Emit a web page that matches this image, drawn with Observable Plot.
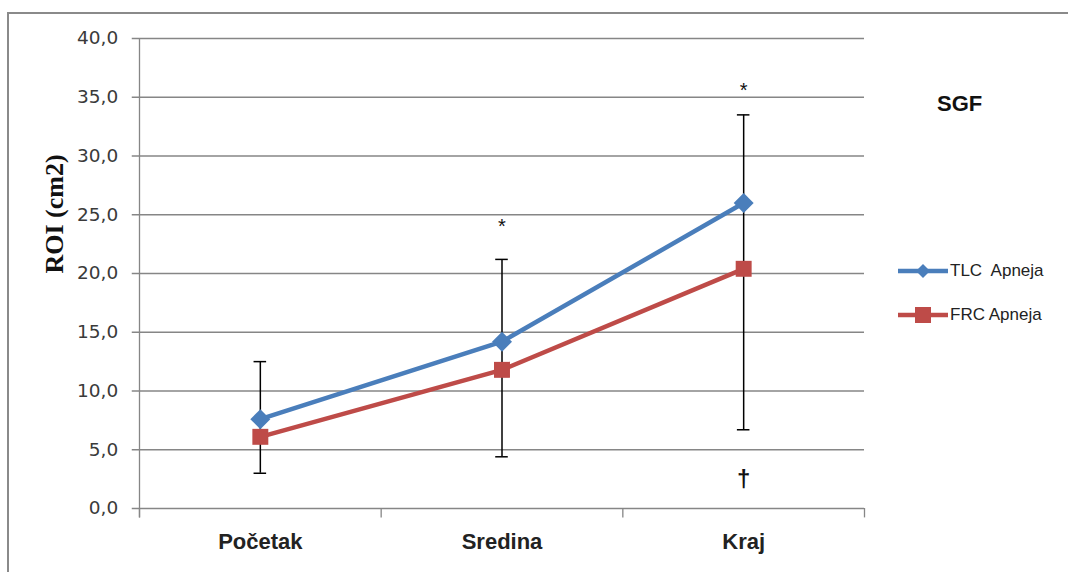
<!DOCTYPE html>
<html>
<head>
<meta charset="utf-8">
<script src="https://cdn.jsdelivr.net/npm/d3@7"></script>
<script src="https://cdn.jsdelivr.net/npm/@observablehq/plot@0.6"></script>
<style>
  html, body { margin: 0; padding: 0; background: #fff; }
  #wrap { position: relative; width: 1068px; height: 572px; overflow: hidden; }
  #frame { position: absolute; left: 7px; top: 12px; width: 1070px; height: 570px; border-left: 2px solid #8a8a8a; border-top: 2px solid #8a8a8a; box-sizing: border-box; pointer-events: none; }
  #title { position: absolute; left: 937px; top: 91px; font: bold 22px "Liberation Sans", Arial, sans-serif; color: #111; }
  #legend { position: absolute; left: 897px; top: 259px; font: 17px "Liberation Sans", Arial, sans-serif; color: #222; }
  .item { display: flex; align-items: center; height: 24px; margin-bottom: 20px; }
  .item svg { margin-right: 1px; }
</style>
</head>
<body>
<div id="wrap">
  <div id="chart"></div>
  <div id="frame"></div>
  <div id="title">SGF</div>
  <div id="legend"></div>
</div>
<script>
const categories = ["Početak", "Sredina", "Kraj"];
const tlc = [7.6, 14.2, 26.0];
const frc = [6.1, 11.8, 20.4];
const errLow = [3.0, 4.4, 6.7];
const errHigh = [12.5, 21.2, 33.5];
const starY = [null, 24.3, 35.9];
const daggerY = [null, null, 2.5];
const yTicks = [0, 5, 10, 15, 20, 25, 30, 35, 40];
const seriesNames = ["TLC  Apneja", "FRC Apneja"];
const colors = ["#4A7EBB", "#BE4B48"];

const idx = categories.map((c, i) => i);
const tlcData = idx.map(i => ({i, v: tlc[i]}));
const frcData = idx.map(i => ({i, v: frc[i]}));
const errData = idx.map(i => ({i, lo: errLow[i], hi: errHigh[i]}));
const stars = idx.filter(i => starY[i] != null).map(i => ({i, v: starY[i]}));
const daggers = idx.filter(i => daggerY[i] != null).map(i => ({i, v: daggerY[i]}));
const bounds = d3.range(categories.length + 1).map(k => k - 0.5);
const fmt = d => d.toFixed(1).replace(".", ",");
const cap = 0.026;   // half width of error-bar caps, in category units
const tk = 0.03;     // y tick length, in category units

const grey = "#868686";
const plot = Plot.plot({
  width: 1068,
  height: 572,
  marginLeft: 139,
  marginRight: 204,
  marginTop: 38,
  marginBottom: 64,
  style: {background: "transparent", overflow: "visible"},
  x: {type: "linear", domain: [-0.5, categories.length - 0.5], axis: null},
  y: {type: "linear", domain: [0, 40], axis: null},
  marks: [
    Plot.ruleY(yTicks, {y: d => d, x1: -0.5 - tk, x2: categories.length - 0.5, stroke: grey, strokeWidth: 1.3}),
    Plot.ruleX([-0.5], {x: d => d, y1: -0.8, y2: 40, stroke: grey, strokeWidth: 1.3}),
    Plot.ruleX(bounds, {x: d => d, y1: 0, y2: -0.8, stroke: grey, strokeWidth: 1.3}),
    Plot.text(yTicks, {y: d => d, x: -0.5 - tk, text: fmt, dx: -14, textAnchor: "end", fontSize: 18.5, fill: "#3a3a3a", fontFamily: "DejaVu Sans, Verdana, sans-serif"}),
    Plot.text(idx, {x: d => d, y: 0, text: d => categories[d], dy: 33, fontSize: 22, fontWeight: "bold", fill: "#222", fontFamily: "Liberation Sans, Arial, sans-serif"}),
    Plot.text(["ROI (cm2)"], {frameAnchor: "left", dx: -85, rotate: -90, fontSize: 26, fontWeight: "bold", fill: "#111", fontFamily: "Liberation Serif, Times New Roman, serif"}),
    Plot.ruleX(errData, {x: "i", y1: "lo", y2: "hi", stroke: "#000", strokeWidth: 1.5}),
    Plot.ruleY(errData, {y: "lo", x1: d => d.i - cap, x2: d => d.i + cap, stroke: "#000", strokeWidth: 1.5}),
    Plot.ruleY(errData, {y: "hi", x1: d => d.i - cap, x2: d => d.i + cap, stroke: "#000", strokeWidth: 1.5}),
    Plot.line(frcData, {x: "i", y: "v", stroke: colors[1], strokeWidth: 4.5}),
    Plot.line(tlcData, {x: "i", y: "v", stroke: colors[0], strokeWidth: 4.5}),
    Plot.dot(frcData, {x: "i", y: "v", symbol: "square", r: 9, fill: colors[1], stroke: "none"}),
    Plot.dot(tlcData, {x: "i", y: "v", symbol: "diamond2", r: 9, fill: colors[0], stroke: "none"}),
    Plot.text(stars, {x: "i", y: "v", text: () => "*", fontSize: 20, fill: "#111", dy: 4, fontFamily: "Liberation Sans, Arial, sans-serif"}),
    Plot.text(daggers, {x: "i", y: "v", text: () => "†", fontSize: 24, fontWeight: "bold", fill: "#111", fontFamily: "Liberation Sans, Arial, sans-serif"})
  ]
});
document.getElementById("chart").appendChild(plot);

// Legend
const legend = d3.select("#legend");
seriesNames.forEach((name, k) => {
  const item = legend.append("div").attr("class", "item");
  const svg = item.append("svg").attr("width", 52).attr("height", 20);
  svg.append("line").attr("x1", 1).attr("x2", 51).attr("y1", 10).attr("y2", 10)
    .attr("stroke", colors[k]).attr("stroke-width", 4.5);
  if (k === 0) {
    svg.append("path").attr("d", "M26,3 L33,10 L26,17 L19,10 Z").attr("fill", colors[k]);
  } else {
    svg.append("rect").attr("x", 18).attr("y", 2).attr("width", 16).attr("height", 16).attr("fill", colors[k]);
  }
  item.append("span").text(name).style("white-space", "pre");
});
</script>
</body>
</html>
